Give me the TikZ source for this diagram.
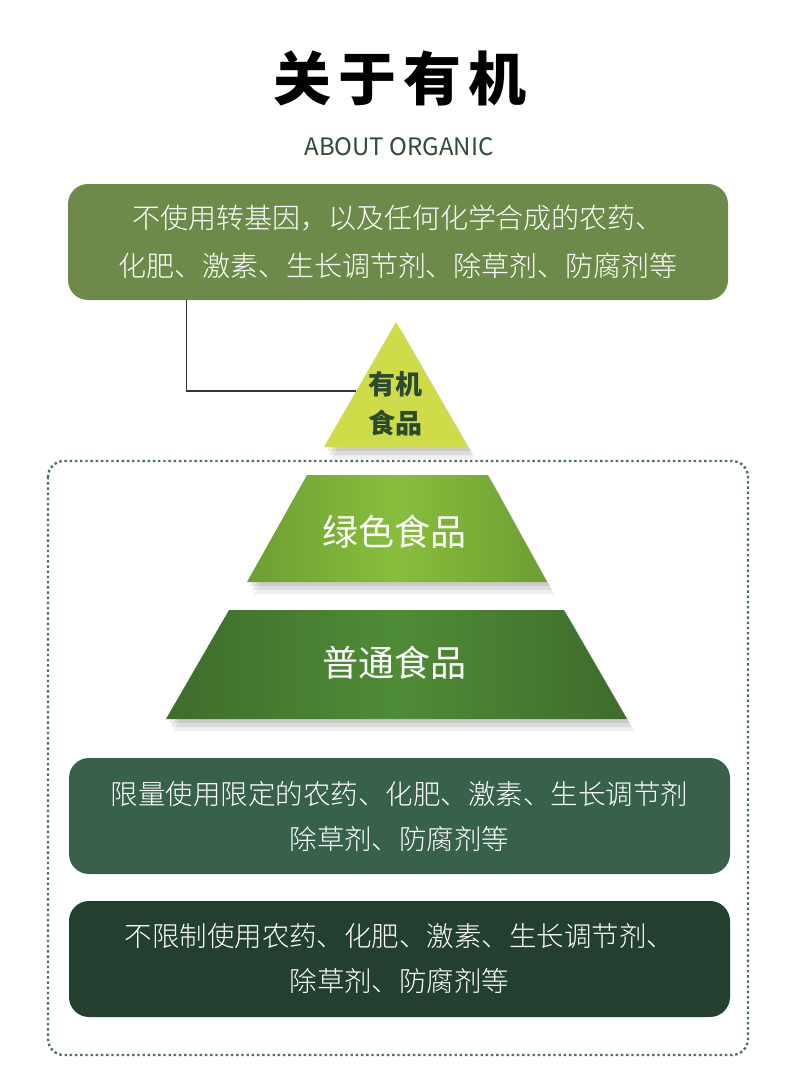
\documentclass[tikz,border=0pt]{standalone}
\usepackage{fontspec}
\setmainfont{Noto Sans CJK SC}
\newfontfamily\cjklight{Noto Sans CJK SC Light}
\newfontfamily\cjkheavy{Noto Sans CJK SC Black}
\usetikzlibrary{calc,shadows,positioning}

\definecolor{boxone}{HTML}{6E8A4A}
\definecolor{boxthree}{HTML}{37614A}
\definecolor{boxfour}{HTML}{233F2F}
\definecolor{trifill}{HTML}{CEDC4A}
\definecolor{trapedge}{HTML}{6C9E32}
\definecolor{trapmid}{HTML}{88BE3C}
\definecolor{baseedge}{HTML}{3E6C2C}
\definecolor{basemid}{HTML}{4F8C36}
\definecolor{framegreen}{HTML}{4D7059}
\definecolor{labelgreen}{HTML}{2B4A2E}
\definecolor{subgreen}{HTML}{2F4A35}

\tikzset{
  notebox/.style={rounded corners=20pt, draw=none, text=white, align=center,
    minimum width=660pt, minimum height=116pt, inner sep=0pt},
  softshadow/.style={
    drop shadow={shadow xshift=3pt, shadow yshift=-4pt, opacity=.08, fill=black},
    drop shadow={shadow xshift=5pt, shadow yshift=-8pt, opacity=.08, fill=black},
    drop shadow={shadow xshift=7pt, shadow yshift=-12pt, opacity=.06, fill=black}},
  levellabel/.style={text=white, font=\fontsize{36}{36}\selectfont},
  linkline/.style={draw=black!80, line width=1.3pt}
}

\begin{document}
\begin{tikzpicture}[x=1pt,y=-1pt]
    \useasboundingbox[fill=white] (0,0) rectangle (790,1072);

    % heading
    \node[text=black, font=\cjkheavy\fontsize{58}{58}\selectfont] (title) at (400,78)
      {关\hspace{7pt}于\hspace{7pt}有\hspace{7pt}机};
    \node[text=subgreen, font=\fontsize{24}{24}\selectfont] (subtitle) at (399,147) {ABOUT ORGANIC};

    % top description
    \node[notebox, fill=boxone, font=\cjklight\fontsize{28}{48}\selectfont] (organicnote) at (398,242)
      {不使用转基因，以及任何化学合成的农药、\\化肥、激素、生长调节剂、除草剂、防腐剂等};

    % dotted frame
    \draw[framegreen, line width=2.4pt, dash pattern=on 2.4pt off 2.8pt, rounded corners=16pt]
      (48,461) rectangle (748,1055);

    % pyramid
    \path[softshadow, fill=trifill] (396,322) coordinate (triapex) -- (468,447) coordinate (triright)
      -- (324,447) coordinate (trileft) -- cycle;
    \node[text=labelgreen, align=center, font=\bfseries\fontsize{27}{39}\selectfont] (organiclabel)
      at (395,404) {有机\\食品};

    \path[softshadow, left color=trapedge, right color=trapedge, middle color=trapmid]
      (307,475) -- (488,475) -- (547,582) -- (247,582) -- cycle;
    \node[levellabel] (greenlabel) at (394,532) {绿色食品};

    \path[softshadow, left color=baseedge, right color=baseedge, middle color=basemid]
      (229,610) -- (564,610) -- (627,719) -- (166,719) -- cycle;
    \node[levellabel] (commonlabel) at (394,663) {普通食品};

    % lower descriptions
    \node[notebox, fill=boxthree, minimum width=661pt, font=\cjklight\fontsize{27.5}{45}\selectfont]
      (greennote) at (399.5,816) {限量使用限定的农药、化肥、激素、生长调节剂\\除草剂、防腐剂等};
    \node[notebox, fill=boxfour, minimum width=661pt, font=\cjklight\fontsize{27.5}{45}\selectfont]
      (commonnote) at (399.5,959) {不限制使用农药、化肥、激素、生长调节剂、\\除草剂、防腐剂等};

    % connector
    \coordinate (triedge) at ($(triapex)!0.552!(trileft)$);
    \draw[linkline] ($(organicnote.south west)+(119,0)$) |- (triedge);
\end{tikzpicture}
\end{document}
